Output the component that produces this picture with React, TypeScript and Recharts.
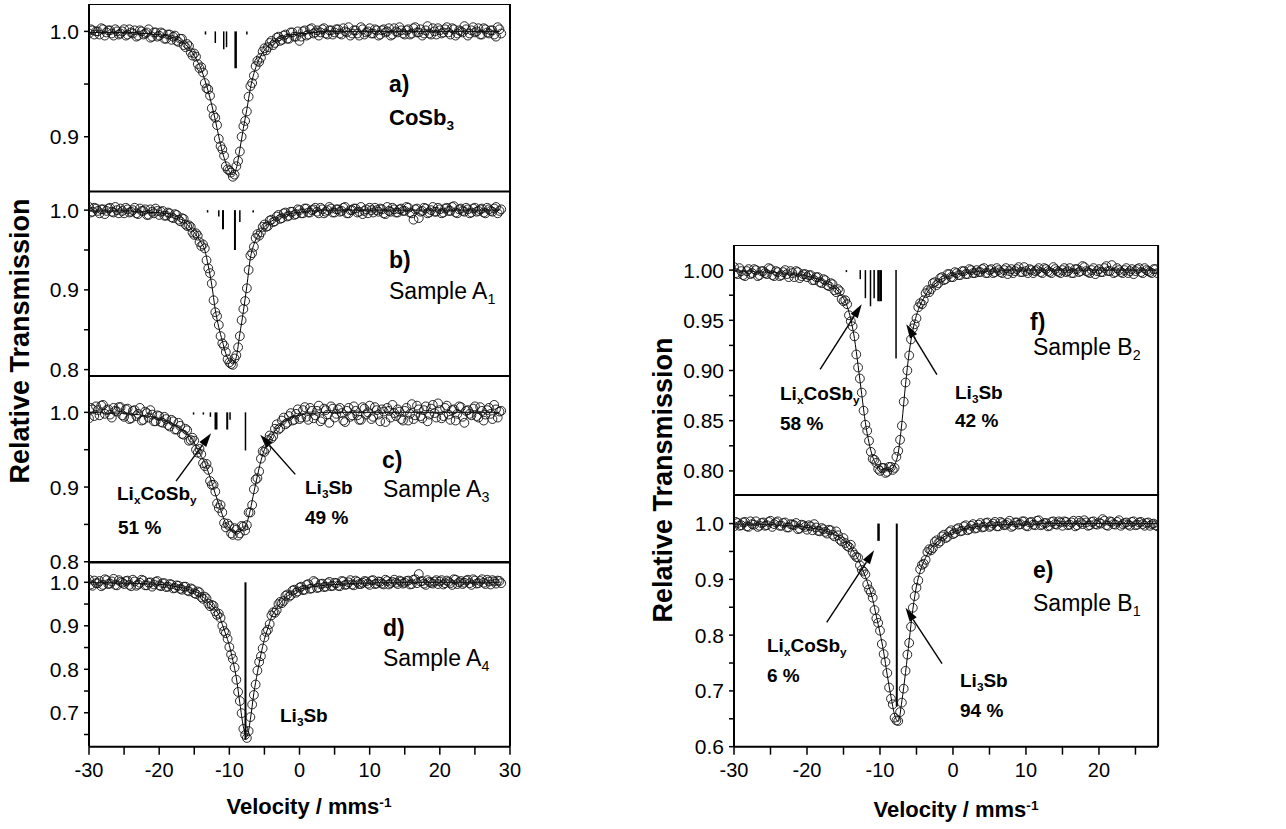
import React from 'react';
import { ComposedChart, Line, Scatter, XAxis, YAxis, ReferenceLine } from 'recharts';

const FONT = '"Liberation Sans", Arial, Helvetica, sans-serif';

// velocity channels (mm/s): even channels and the odd channels in between
const velLeft = [
  -30, -29.5, -29, -28.5, -28, -27.5, -27, -26.5, -26, -25.5,
  -25, -24.5, -24, -23.5, -23, -22.5, -22, -21.5, -21, -20.5,
  -20, -19.5, -19, -18.5, -18, -17.5, -17, -16.5, -16, -15.5,
  -15, -14.5, -14, -13.5, -13, -12.5, -12, -11.5, -11, -10.5,
  -10, -9.5, -9, -8.5, -8, -7.5, -7, -6.5, -6, -5.5,
  -5, -4.5, -4, -3.5, -3, -2.5, -2, -1.5, -1, -0.5,
  0, 0.5, 1, 1.5, 2, 2.5, 3, 3.5, 4, 4.5,
  5, 5.5, 6, 6.5, 7, 7.5, 8, 8.5, 9, 9.5,
  10, 10.5, 11, 11.5, 12, 12.5, 13, 13.5, 14, 14.5,
  15, 15.5, 16, 16.5, 17, 17.5, 18, 18.5, 19, 19.5,
  20, 20.5, 21, 21.5, 22, 22.5, 23, 23.5, 24, 24.5,
  25, 25.5, 26, 26.5, 27, 27.5, 28, 28.5,
];
const velLeftMid = [
  -29.75, -29.25, -28.75, -28.25, -27.75, -27.25, -26.75, -26.25, -25.75, -25.25,
  -24.75, -24.25, -23.75, -23.25, -22.75, -22.25, -21.75, -21.25, -20.75, -20.25,
  -19.75, -19.25, -18.75, -18.25, -17.75, -17.25, -16.75, -16.25, -15.75, -15.25,
  -14.75, -14.25, -13.75, -13.25, -12.75, -12.25, -11.75, -11.25, -10.75, -10.25,
  -9.75, -9.25, -8.75, -8.25, -7.75, -7.25, -6.75, -6.25, -5.75, -5.25,
  -4.75, -4.25, -3.75, -3.25, -2.75, -2.25, -1.75, -1.25, -0.75, -0.25,
  0.25, 0.75, 1.25, 1.75, 2.25, 2.75, 3.25, 3.75, 4.25, 4.75,
  5.25, 5.75, 6.25, 6.75, 7.25, 7.75, 8.25, 8.75, 9.25, 9.75,
  10.25, 10.75, 11.25, 11.75, 12.25, 12.75, 13.25, 13.75, 14.25, 14.75,
  15.25, 15.75, 16.25, 16.75, 17.25, 17.75, 18.25, 18.75, 19.25, 19.75,
  20.25, 20.75, 21.25, 21.75, 22.25, 22.75, 23.25, 23.75, 24.25, 24.75,
  25.25, 25.75, 26.25, 26.75, 27.25, 27.75, 28.25, 28.75,
];
const velRight = [
  -30, -29.5, -29, -28.5, -28, -27.5, -27, -26.5, -26, -25.5,
  -25, -24.5, -24, -23.5, -23, -22.5, -22, -21.5, -21, -20.5,
  -20, -19.5, -19, -18.5, -18, -17.5, -17, -16.5, -16, -15.5,
  -15, -14.5, -14, -13.5, -13, -12.5, -12, -11.5, -11, -10.5,
  -10, -9.5, -9, -8.5, -8, -7.5, -7, -6.5, -6, -5.5,
  -5, -4.5, -4, -3.5, -3, -2.5, -2, -1.5, -1, -0.5,
  0, 0.5, 1, 1.5, 2, 2.5, 3, 3.5, 4, 4.5,
  5, 5.5, 6, 6.5, 7, 7.5, 8, 8.5, 9, 9.5,
  10, 10.5, 11, 11.5, 12, 12.5, 13, 13.5, 14, 14.5,
  15, 15.5, 16, 16.5, 17, 17.5, 18, 18.5, 19, 19.5,
  20, 20.5, 21, 21.5, 22, 22.5, 23, 23.5, 24, 24.5,
  25, 25.5, 26, 26.5, 27, 27.5, 28,
];
const velRightMid = [
  -29.75, -29.25, -28.75, -28.25, -27.75, -27.25, -26.75, -26.25, -25.75, -25.25,
  -24.75, -24.25, -23.75, -23.25, -22.75, -22.25, -21.75, -21.25, -20.75, -20.25,
  -19.75, -19.25, -18.75, -18.25, -17.75, -17.25, -16.75, -16.25, -15.75, -15.25,
  -14.75, -14.25, -13.75, -13.25, -12.75, -12.25, -11.75, -11.25, -10.75, -10.25,
  -9.75, -9.25, -8.75, -8.25, -7.75, -7.25, -6.75, -6.25, -5.75, -5.25,
  -4.75, -4.25, -3.75, -3.25, -2.75, -2.25, -1.75, -1.25, -0.75, -0.25,
  0.25, 0.75, 1.25, 1.75, 2.25, 2.75, 3.25, 3.75, 4.25, 4.75,
  5.25, 5.75, 6.25, 6.75, 7.25, 7.75, 8.25, 8.75, 9.25, 9.75,
  10.25, 10.75, 11.25, 11.75, 12.25, 12.75, 13.25, 13.75, 14.25, 14.75,
  15.25, 15.75, 16.25, 16.75, 17.25, 17.75, 18.25, 18.75, 19.25, 19.75,
  20.25, 20.75, 21.25, 21.75, 22.25, 22.75, 23.25, 23.75, 24.25, 24.75,
  25.25, 25.75, 26.25, 26.75, 27.25, 27.75,
];

// a) CoSb3
const obsA = [
  0.998, 1.001, 1.000, 0.997, 1.002, 0.999, 1.001, 0.996, 1.000, 0.998,
  1.002, 0.997, 0.999, 1.001, 0.996, 1.000, 0.998, 1.002, 0.995, 0.999,
  0.996, 0.998, 0.993, 0.997, 0.995, 0.991, 0.993, 0.987, 0.988, 0.980,
  0.979, 0.969, 0.966, 0.951, 0.945, 0.927, 0.918, 0.898, 0.888, 0.872,
  0.868, 0.862, 0.872, 0.886, 0.910, 0.924, 0.948, 0.958, 0.972, 0.975,
  0.984, 0.985, 0.991, 0.989, 0.995, 0.992, 0.997, 0.993, 0.999, 0.995,
  0.991, 1.000, 0.996, 1.002, 0.998, 1.001, 0.999, 1.003, 0.997, 1.001,
  0.999, 1.002, 0.997, 1.000, 1.004, 0.998, 1.001, 0.996, 1.002, 0.999,
  1.003, 0.998, 1.001, 0.997, 1.002, 1.000, 0.996, 1.003, 0.999, 1.001,
  0.997, 1.002, 0.998, 1.004, 0.999, 0.996, 1.001, 0.998, 1.003, 0.997,
  1.001, 0.999, 1.004, 0.997, 1.002, 0.998, 1.000, 1.005, 0.996, 1.001,
  0.999, 1.003, 0.997, 1.002, 0.998, 1.001, 0.995, 1.002,
];
const obsAMid = [
  1.002, 0.997, 1.000, 1.003, 0.996, 1.001, 0.998, 1.002, 0.997, 1.000,
  0.996, 1.002, 0.998, 0.995, 1.001, 0.997, 0.999, 0.994, 0.999, 0.995,
  0.999, 0.993, 0.997, 0.992, 0.996, 0.990, 0.993, 0.985, 0.986, 0.977,
  0.976, 0.965, 0.961, 0.946, 0.939, 0.920, 0.911, 0.891, 0.882, 0.869,
  0.866, 0.864, 0.877, 0.900, 0.915, 0.938, 0.951, 0.967, 0.971, 0.981,
  0.982, 0.989, 0.987, 0.994, 0.991, 0.996, 0.993, 0.999, 0.995, 1.000,
  0.995, 1.001, 0.997, 1.003, 0.999, 0.996, 1.002, 0.998, 1.001, 0.997,
  1.002, 0.998, 1.003, 0.999, 0.996, 1.001, 0.998, 1.004, 0.997, 1.000,
  0.998, 1.002, 0.996, 1.001, 0.999, 1.003, 0.997, 1.000, 1.004, 0.998,
  1.001, 0.997, 1.003, 0.999, 1.002, 0.998, 1.005, 0.997, 1.000, 1.003,
  0.998, 1.002, 0.999, 1.003, 0.996, 1.001, 0.999, 1.002, 0.998, 1.004,
  1.000, 0.997, 1.003, 0.999, 1.001, 0.997, 1.004, 0.998,
];
const fitA = [
  0.999, 0.999, 0.999, 0.999, 0.999, 0.999, 0.999, 0.999, 0.999, 0.999,
  0.999, 0.999, 0.999, 0.999, 0.998, 0.998, 0.998, 0.998, 0.997, 0.997,
  0.997, 0.996, 0.996, 0.995, 0.994, 0.993, 0.991, 0.989, 0.986, 0.982,
  0.977, 0.971, 0.964, 0.954, 0.943, 0.930, 0.916, 0.900, 0.886, 0.875,
  0.867, 0.864, 0.870, 0.888, 0.908, 0.926, 0.946, 0.960, 0.970, 0.977,
  0.982, 0.986, 0.989, 0.991, 0.993, 0.994, 0.995, 0.996, 0.997, 0.997,
  0.998, 0.998, 0.998, 0.999, 0.999, 0.999, 1, 1, 1, 1,
  1, 1, 1, 1, 1, 1, 1, 1, 1, 1,
  1, 1, 1, 1, 1, 1, 1, 1, 1, 1,
  1, 1, 1, 1, 1, 1, 1, 1, 1, 1,
  1, 1, 1, 1, 1, 1, 1, 1, 1, 1,
  1, 1, 1, 1, 1, 1, 1, 1,
];

// b) Sample A1
const obsB = [
  1.004, 0.998, 1.002, 0.996, 1.001, 0.999, 1.003, 0.997, 1.000, 1.002,
  0.996, 1.001, 0.998, 1.003, 0.995, 0.999, 1.001, 0.994, 0.998, 1.002,
  0.994, 0.999, 0.993, 0.996, 0.990, 0.994, 0.986, 0.989, 0.980, 0.979,
  0.969, 0.968, 0.955, 0.952, 0.927, 0.908, 0.872, 0.856, 0.833, 0.822,
  0.809, 0.806, 0.818, 0.842, 0.876, 0.902, 0.943, 0.954, 0.970, 0.972,
  0.982, 0.980, 0.988, 0.986, 0.994, 0.990, 0.997, 0.993, 0.998, 0.995,
  1.000, 0.996, 1.002, 0.997, 1.001, 0.998, 1.003, 0.996, 1.000, 1.002,
  0.997, 1.001, 0.999, 1.004, 0.996, 1.000, 1.002, 0.998, 0.995, 1.001,
  1.003, 0.997, 1.000, 1.002, 0.996, 1.004, 0.998, 1.001, 0.997, 1.002,
  0.999, 1.003, 0.996, 1.001, 0.990, 0.999, 1.002, 0.997, 1.004, 0.998,
  1.001, 0.997, 1.003, 0.999, 1.005, 0.996, 1.002, 0.998, 1.001, 0.997,
  1.003, 0.999, 1.002, 0.996, 1.001, 0.998, 1.004, 0.999,
];
const obsBMid = [
  0.997, 1.003, 0.999, 1.001, 0.995, 1.002, 0.998, 1.004, 0.996, 0.999,
  1.003, 0.997, 1.000, 0.996, 1.002, 0.999, 0.994, 1.001, 0.996, 0.999,
  0.998, 0.993, 0.997, 0.991, 0.995, 0.988, 0.990, 0.982, 0.981, 0.972,
  0.971, 0.960, 0.957, 0.937, 0.921, 0.887, 0.867, 0.842, 0.830, 0.813,
  0.807, 0.814, 0.828, 0.862, 0.886, 0.925, 0.946, 0.965, 0.968, 0.979,
  0.979, 0.987, 0.985, 0.992, 0.989, 0.996, 0.992, 0.998, 0.994, 1.001,
  0.996, 1.002, 0.997, 1.000, 1.003, 0.996, 1.001, 0.998, 1.004, 0.997,
  1.001, 0.998, 1.003, 0.996, 1.000, 1.002, 0.997, 1.004, 0.999, 0.996,
  1.000, 1.003, 0.998, 1.001, 0.995, 0.999, 1.003, 0.997, 1.001, 0.999,
  1.004, 0.997, 0.988, 1.002, 0.998, 1.003, 0.996, 1.000, 0.998, 1.003,
  0.996, 1.002, 0.999, 1.004, 0.997, 1.001, 0.999, 1.003, 0.996, 1.002,
  0.998, 1.001, 0.997, 1.003, 0.999, 1.002, 0.996, 1.001,
];
const fitB = [
  0.999, 0.999, 0.999, 0.999, 0.999, 0.999, 0.999, 0.999, 0.999, 0.999,
  0.999, 0.999, 0.999, 0.998, 0.998, 0.998, 0.998, 0.997, 0.997, 0.997,
  0.997, 0.996, 0.996, 0.995, 0.993, 0.992, 0.989, 0.987, 0.982, 0.977,
  0.972, 0.966, 0.959, 0.950, 0.930, 0.906, 0.875, 0.853, 0.836, 0.820,
  0.811, 0.807, 0.816, 0.845, 0.873, 0.905, 0.940, 0.957, 0.967, 0.974,
  0.979, 0.983, 0.986, 0.989, 0.991, 0.993, 0.994, 0.995, 0.996, 0.997,
  0.997, 0.998, 0.998, 0.999, 0.999, 0.999, 1, 1, 1, 1,
  1, 1, 1, 1, 1, 1, 1, 1, 1, 1,
  1, 1, 1, 1, 1, 1, 1, 1, 1, 1,
  1, 1, 1, 1, 1, 1, 1, 1, 1, 1,
  1, 1, 1, 1, 1, 1, 1, 1, 1, 1,
  1, 1, 1, 1, 1, 1, 1, 1,
];

// c) Sample A3
const obsC = [
  0.992, 1.004, 1.008, 0.996, 1.010, 1.003, 0.997, 1.006, 1.001, 1.007,
  0.994, 1.005, 0.992, 1.003, 0.998, 0.989, 1.001, 0.993, 0.997, 0.988,
  0.995, 0.986, 0.991, 0.981, 0.988, 0.977, 0.982, 0.970, 0.976, 0.963,
  0.962, 0.946, 0.944, 0.928, 0.923, 0.903, 0.894, 0.872, 0.866, 0.846,
  0.848, 0.836, 0.843, 0.838, 0.847, 0.849, 0.866, 0.897, 0.912, 0.938,
  0.947, 0.963, 0.965, 0.978, 0.977, 0.989, 0.984, 0.995, 0.989, 0.998,
  0.991, 1.003, 0.994, 1.006, 0.992, 1.002, 0.988, 1.005, 0.997, 1.008,
  0.993, 1.004, 0.999, 0.987, 1.006, 0.996, 1.002, 0.990, 1.007, 0.997,
  1.009, 0.994, 1.003, 0.988, 1.001, 1.006, 0.993, 0.999, 1.004, 0.991,
  1.002, 0.989, 1.011, 0.996, 1.004, 0.992, 1.008, 0.997, 1.010, 0.993,
  1.003, 0.995, 1.009, 0.990, 1.004, 0.998, 1.007, 0.986, 1.003, 0.996,
  1.008, 0.993, 1.002, 0.997, 1.006, 0.991, 1.004, 1.001,
];
const obsCMid = [
  1.006, 0.995, 1.003, 1.009, 0.998, 1.004, 0.993, 1.002, 1.007, 0.996,
  1.004, 0.991, 1.002, 0.995, 1.006, 0.990, 0.999, 1.003, 0.988, 0.996,
  0.987, 0.994, 0.983, 0.990, 0.977, 0.986, 0.971, 0.978, 0.962, 0.966,
  0.950, 0.951, 0.932, 0.931, 0.908, 0.903, 0.878, 0.876, 0.852, 0.851,
  0.838, 0.845, 0.835, 0.848, 0.842, 0.866, 0.876, 0.910, 0.921, 0.948,
  0.951, 0.969, 0.968, 0.984, 0.979, 0.993, 0.986, 0.999, 0.990, 1.004,
  0.993, 1.007, 0.990, 1.002, 0.996, 1.009, 0.991, 1.003, 0.986, 1.005,
  0.998, 1.006, 0.989, 1.002, 0.994, 1.008, 0.996, 0.990, 1.005, 1.000,
  0.991, 1.007, 0.997, 1.004, 0.987, 1.002, 1.010, 0.995, 1.001, 0.989,
  1.006, 0.998, 0.991, 1.009, 0.995, 1.003, 0.988, 1.005, 0.999, 1.012,
  0.992, 1.006, 0.997, 1.003, 0.989, 1.008, 0.994, 1.002, 0.998, 1.005,
  0.995, 1.007, 0.989, 1.003, 0.998, 1.010, 0.993, 1.002,
];
const fitC = [
  1, 1, 1, 1, 0.999, 0.999, 0.999, 0.999, 0.999, 0.999,
  0.998, 0.998, 0.998, 0.997, 0.997, 0.996, 0.995, 0.995, 0.994, 0.993,
  0.991, 0.990, 0.988, 0.986, 0.984, 0.981, 0.978, 0.975, 0.971, 0.966,
  0.959, 0.950, 0.941, 0.933, 0.920, 0.906, 0.891, 0.877, 0.863, 0.851,
  0.845, 0.840, 0.840, 0.841, 0.844, 0.852, 0.870, 0.893, 0.915, 0.935,
  0.950, 0.960, 0.968, 0.975, 0.981, 0.985, 0.989, 0.991, 0.993, 0.995,
  0.996, 0.997, 0.998, 0.998, 0.999, 0.999, 1, 1, 1, 1,
  1, 1, 1, 1, 1, 1, 1, 1, 1, 1,
  1, 1, 1, 1, 1, 1, 1, 1, 1, 1,
  1, 1, 1, 1, 1, 1, 1, 1, 1, 1,
  1, 1, 1, 1, 1, 1, 1, 1, 1, 1,
  1, 1, 1, 1, 1, 1, 1, 1,
];

// d) Sample A4
const obsD = [
  1.006, 0.992, 0.998, 1.003, 0.994, 1.005, 0.997, 1.008, 0.993, 1.001,
  0.996, 1.004, 0.991, 1.002, 0.995, 1.006, 0.993, 0.999, 0.990, 1.001,
  0.993, 0.998, 0.989, 0.996, 0.986, 0.993, 0.985, 0.990, 0.981, 0.986,
  0.975, 0.979, 0.966, 0.967, 0.951, 0.948, 0.933, 0.928, 0.900, 0.883,
  0.851, 0.824, 0.776, 0.727, 0.663, 0.642, 0.690, 0.741, 0.797, 0.830,
  0.873, 0.891, 0.924, 0.930, 0.950, 0.952, 0.969, 0.967, 0.981, 0.976,
  0.988, 0.982, 0.994, 0.985, 1.003, 0.987, 0.996, 0.989, 0.998, 0.991,
  0.999, 0.992, 1.003, 0.994, 1.000, 0.995, 1.004, 0.996, 0.999, 1.002,
  0.994, 1.005, 0.997, 1.001, 0.995, 1.003, 0.998, 1.006, 0.996, 1.002,
  0.999, 1.004, 0.996, 1.007, 1.019, 1.003, 0.994, 1.001, 0.997, 1.005,
  1.002, 0.995, 1.004, 0.998, 1.007, 0.996, 1.003, 0.999, 1.006, 0.994,
  1.004, 0.998, 1.007, 0.996, 1.002, 1.005, 0.997, 1.003,
];
const obsDMid = [
  0.995, 1.004, 0.998, 0.991, 1.007, 0.996, 1.002, 0.994, 1.005, 0.999,
  1.003, 0.994, 1.006, 0.992, 0.999, 1.004, 0.993, 1.000, 0.995, 1.003,
  0.991, 0.998, 0.990, 0.995, 0.987, 0.992, 0.983, 0.990, 0.979, 0.984,
  0.973, 0.977, 0.962, 0.963, 0.945, 0.946, 0.925, 0.918, 0.888, 0.870,
  0.834, 0.804, 0.748, 0.699, 0.649, 0.658, 0.719, 0.765, 0.817, 0.848,
  0.886, 0.904, 0.931, 0.936, 0.955, 0.957, 0.972, 0.970, 0.983, 0.979,
  0.990, 0.983, 0.996, 0.986, 1.000, 0.988, 0.997, 0.990, 1.001, 0.992,
  0.998, 0.991, 1.002, 0.995, 1.005, 0.993, 1.001, 0.996, 1.003, 0.997,
  1.004, 0.996, 1.002, 0.997, 1.006, 0.995, 1.001, 0.999, 1.004, 0.997,
  1.003, 0.995, 1.006, 0.998, 1.002, 0.997, 1.005, 0.999, 1.002, 0.996,
  1.005, 0.998, 1.001, 0.994, 1.006, 1.000, 0.996, 1.004, 0.998, 1.007,
  0.997, 1.003, 0.999, 1.006, 0.995, 1.002, 1.004, 0.998,
];
const fitD = [
  0.999, 0.999, 0.999, 0.999, 0.999, 0.999, 0.999, 0.998, 0.998, 0.998,
  0.998, 0.998, 0.998, 0.997, 0.997, 0.997, 0.997, 0.996, 0.996, 0.996,
  0.995, 0.995, 0.994, 0.993, 0.991, 0.990, 0.988, 0.987, 0.984, 0.982,
  0.979, 0.976, 0.970, 0.963, 0.955, 0.946, 0.937, 0.925, 0.903, 0.880,
  0.855, 0.820, 0.780, 0.722, 0.668, 0.645, 0.685, 0.746, 0.792, 0.834,
  0.869, 0.895, 0.920, 0.934, 0.946, 0.956, 0.965, 0.971, 0.977, 0.981,
  0.984, 0.986, 0.988, 0.989, 0.990, 0.991, 0.992, 0.993, 0.994, 0.994,
  0.995, 0.995, 0.996, 0.996, 0.997, 0.997, 0.997, 0.998, 0.998, 0.998,
  0.998, 0.998, 0.999, 0.999, 0.999, 0.999, 0.999, 0.999, 0.999, 0.999,
  1, 1, 1, 1, 1, 1, 1, 1, 1, 1,
  1, 1, 1, 1, 1, 1, 1, 1, 1, 1,
  1, 1, 1, 1, 1, 1, 1, 1,
];

// f) Sample B2
const obsF = [
  1.003, 0.996, 0.999, 0.994, 1.001, 0.997, 1.000, 0.995, 0.999, 0.996,
  1.001, 0.994, 0.998, 0.995, 1.000, 0.993, 0.997, 0.999, 0.992, 0.996,
  0.993, 0.995, 0.990, 0.993, 0.987, 0.990, 0.984, 0.986, 0.978, 0.979,
  0.969, 0.966, 0.949, 0.934, 0.903, 0.878, 0.846, 0.830, 0.812, 0.808,
  0.800, 0.803, 0.799, 0.804, 0.803, 0.820, 0.845, 0.888, 0.915, 0.942,
  0.952, 0.967, 0.970, 0.980, 0.981, 0.988, 0.987, 0.993, 0.991, 0.996,
  0.993, 0.997, 0.995, 0.999, 0.996, 1.000, 0.997, 0.998, 1.001, 0.997,
  1.000, 0.997, 1.002, 0.998, 1.000, 0.996, 1.001, 0.999, 1.003, 0.998,
  0.999, 1.001, 0.997, 1.000, 0.998, 1.002, 0.999, 0.997, 1.001, 0.998,
  1.000, 0.998, 1.002, 0.997, 1.001, 0.999, 1.003, 0.998, 1.000, 0.996,
  1.001, 0.998, 1.004, 0.999, 0.997, 1.002, 0.998, 1.000, 0.997, 1.001,
  0.999, 1.002, 0.997, 1.000, 0.998, 1.001, 0.997,
];
const obsFMid = [
  0.997, 1.002, 0.995, 0.999, 0.996, 1.001, 0.994, 0.999, 0.997, 1.002,
  0.995, 0.999, 0.994, 0.998, 0.996, 0.999, 0.993, 0.998, 0.994, 0.996,
  0.995, 0.990, 0.993, 0.988, 0.991, 0.985, 0.987, 0.980, 0.981, 0.971,
  0.970, 0.955, 0.944, 0.916, 0.892, 0.860, 0.840, 0.819, 0.811, 0.802,
  0.803, 0.798, 0.804, 0.801, 0.814, 0.831, 0.869, 0.900, 0.931, 0.946,
  0.963, 0.966, 0.977, 0.978, 0.987, 0.985, 0.992, 0.990, 0.996, 0.993,
  0.998, 0.995, 0.999, 0.996, 1.001, 0.997, 1.000, 0.998, 1.002, 0.997,
  1.001, 0.998, 1.000, 0.997, 1.002, 0.999, 0.997, 1.001, 0.998, 1.003,
  0.997, 1.000, 0.999, 1.002, 0.997, 1.001, 0.998, 1.003, 0.999, 0.997,
  1.002, 0.999, 0.997, 1.001, 0.998, 1.004, 0.999, 0.997, 1.002, 0.999,
  0.998, 1.002, 0.999, 1.005, 0.998, 1.000, 0.997, 1.002, 0.999, 0.996,
  1.001, 0.998, 1.002, 0.999, 0.997, 1.001,
];
const fitF = [
  0.999, 0.999, 0.999, 0.999, 0.999, 0.999, 0.998, 0.998, 0.998, 0.998,
  0.998, 0.998, 0.997, 0.997, 0.997, 0.996, 0.996, 0.996, 0.995, 0.995,
  0.994, 0.993, 0.992, 0.991, 0.990, 0.988, 0.986, 0.984, 0.981, 0.977,
  0.972, 0.964, 0.951, 0.932, 0.905, 0.876, 0.848, 0.828, 0.814, 0.806,
  0.802, 0.801, 0.801, 0.802, 0.806, 0.818, 0.848, 0.886, 0.918, 0.940,
  0.955, 0.965, 0.972, 0.978, 0.983, 0.986, 0.989, 0.991, 0.993, 0.994,
  0.995, 0.996, 0.997, 0.997, 0.998, 0.998, 0.998, 0.999, 0.999, 0.999,
  0.999, 0.999, 0.999, 0.999, 1, 1, 1, 1, 1, 1,
  1, 1, 1, 1, 1, 1, 1, 1, 1, 1,
  1, 1, 1, 1, 1, 1, 1, 1, 1, 1,
  1, 1, 1, 1, 1, 1, 1, 1, 1, 1,
  1, 1, 1, 1, 1, 1, 1,
];

// e) Sample B1
const obsE = [
  0.995, 1.001, 0.997, 1.003, 0.994, 0.999, 1.004, 0.996, 1.002, 0.997,
  1.005, 0.999, 1.004, 0.996, 1.002, 0.993, 0.998, 1.001, 0.991, 0.997,
  0.989, 0.995, 0.999, 0.987, 0.992, 0.985, 0.989, 0.980, 0.986, 0.971,
  0.974, 0.960, 0.962, 0.944, 0.939, 0.917, 0.909, 0.882, 0.867, 0.830,
  0.808, 0.766, 0.732, 0.686, 0.652, 0.646, 0.679, 0.736, 0.786, 0.849,
  0.885, 0.918, 0.928, 0.949, 0.952, 0.967, 0.965, 0.977, 0.974, 0.985,
  0.981, 0.990, 0.986, 0.995, 0.988, 0.996, 0.991, 0.998, 0.993, 1.001,
  0.994, 1.000, 0.995, 1.003, 0.997, 1.001, 0.994, 1.002, 0.998, 1.004,
  0.996, 1.002, 0.998, 1.005, 0.997, 1.001, 0.995, 1.003, 0.999, 1.004,
  0.996, 1.003, 0.998, 1.005, 0.997, 1.002, 1.006, 0.996, 1.003, 0.999,
  1.002, 1.008, 0.997, 1.004, 0.999, 1.003, 0.996, 1.001, 0.998, 1.003,
  0.997, 1.002, 0.999, 1.001, 0.996, 1.000, 0.995,
];
const obsEMid = [
  1.003, 0.996, 1.002, 0.995, 1.004, 0.998, 0.994, 1.001, 0.996, 1.003,
  0.994, 1.002, 0.996, 1.001, 0.993, 0.999, 0.997, 0.990, 0.998, 0.994,
  0.997, 0.988, 0.993, 0.986, 0.990, 0.982, 0.988, 0.977, 0.979, 0.968,
  0.965, 0.958, 0.949, 0.940, 0.925, 0.914, 0.891, 0.877, 0.845, 0.822,
  0.784, 0.752, 0.706, 0.676, 0.647, 0.662, 0.704, 0.765, 0.815, 0.870,
  0.898, 0.926, 0.935, 0.954, 0.956, 0.970, 0.968, 0.980, 0.976, 0.988,
  0.983, 0.992, 0.987, 0.997, 0.990, 0.999, 0.992, 1.001, 0.994, 1.002,
  0.996, 1.003, 0.995, 1.001, 0.998, 1.005, 0.996, 1.002, 0.999, 1.004,
  0.995, 1.003, 0.997, 1.006, 0.998, 1.001, 0.996, 1.004, 0.998, 1.002,
  1.004, 0.997, 1.002, 0.995, 1.005, 0.999, 1.002, 0.997, 1.004, 0.998,
  1.000, 1.005, 0.996, 1.003, 0.998, 1.006, 0.999, 1.002, 0.996, 1.004,
  0.998, 1.003, 0.996, 1.002, 0.999, 0.997,
];
const fitE = [
  0.999, 0.999, 0.999, 0.999, 0.999, 0.999, 0.999, 0.999, 0.998, 0.998,
  0.998, 0.998, 0.997, 0.997, 0.997, 0.996, 0.996, 0.995, 0.995, 0.994,
  0.993, 0.992, 0.991, 0.990, 0.989, 0.987, 0.985, 0.983, 0.979, 0.975,
  0.970, 0.965, 0.958, 0.948, 0.936, 0.921, 0.905, 0.886, 0.864, 0.834,
  0.804, 0.770, 0.728, 0.690, 0.657, 0.645, 0.682, 0.733, 0.790, 0.846,
  0.888, 0.914, 0.932, 0.945, 0.956, 0.963, 0.969, 0.974, 0.978, 0.981,
  0.984, 0.987, 0.989, 0.991, 0.992, 0.993, 0.994, 0.995, 0.996, 0.996,
  0.997, 0.997, 0.997, 0.998, 0.998, 0.998, 0.998, 0.999, 0.999, 0.999,
  0.999, 0.999, 0.999, 0.999, 1, 1, 1, 1, 1, 1,
  1, 1, 1, 1, 1, 1, 1, 1, 1, 1,
  1, 1, 1, 1, 1, 1, 1, 1, 1, 1,
  1, 1, 1, 1, 1, 1, 1,
];

// subspectrum line positions (mm/s), line ends and stroke widths
const stickXA = [-13.4, -12.0, -10.8, -10.4, -9.1, -7.5];
const stickEndA = [0.997, 0.989, 0.983, 0.985, 0.965, 0.997];
const stickWA = [1.5, 1.5, 1.5, 1.5, 2.5, 1.5];
const stickXB = [-13.1, -11.5, -10.9, -9.2, -8.5, -6.6];
const stickEndB = [0.997, 0.992, 0.976, 0.950, 0.985, 0.997];
const stickWB = [1.5, 1.5, 2, 2, 1.5, 1.5];
const stickXC = [-15.1, -13.7, -12.7, -11.9, -10.3, -9.9, -7.7];
const stickEndC = [0.997, 0.997, 0.994, 0.977, 0.977, 0.990, 0.949];
const stickWC = [1.5, 1.5, 1.5, 3, 2, 1.5, 1.5];
const stickXD = [-7.7];
const stickEndD = [0.638];
const stickWD = [2];
const stickXF = [-14.6, -12.7, -12.0, -11.3, -10.8, -10.2, -9.9, -7.8];
const stickEndF = [0.998, 0.991, 0.972, 0.964, 0.972, 0.969, 0.969, 0.912];
const stickWF = [1.5, 1.5, 1.5, 1.5, 1.5, 2.5, 2.5, 1.5];
const stickXE = [-10.2, -7.7];
const stickEndE = [0.969, 0.672];
const stickWE = [2.5, 2];

// annotation arrows: [tailX, tailY, tipX, tipY]
const arrowsC = [[-17.6, 0.908, -12.6, 0.972], [-0.6, 0.917, -5.6, 0.970]];
const arrowsF = [[-18.2, 0.901, -12.5, 0.966], [-2.2, 0.896, -6.4, 0.946]];
const arrowsE = [[-17.3, 0.823, -10.8, 0.952], [-1.5, 0.749, -6.5, 0.849]];

const xTicksLeft = [-30, -25, -20, -15, -10, -5, 0, 5, 10, 15, 20, 25, 30];
const xTicksRight = [-30, -25, -20, -15, -10, -5, 0, 5, 10, 15, 20, 25];
const yTicksA = [0.9, 0.95, 1.0];
const yTicksB = [0.8, 0.85, 0.9, 0.95, 1.0];
const yTicksC = [0.8, 0.85, 0.9, 0.95, 1.0];
const yTicksD = [0.65, 0.7, 0.75, 0.8, 0.85, 0.9, 0.95, 1.0];
const yTicksF = [0.8, 0.825, 0.85, 0.875, 0.9, 0.925, 0.95, 0.975, 1.0];
const yTicksE = [0.6, 0.65, 0.7, 0.75, 0.8, 0.85, 0.9, 0.95, 1.0];

const Y_W = 60;
const M_R = 16;

const Ring = (props: any) =>
  props.cx == null ? null : (
    <circle cx={props.cx} cy={props.cy} r={4.4} fill="none" stroke="#111" strokeWidth={0.9} />
  );

const ArrowShape = (props: any) => {
  const { x1, y1, x2, y2 } = props;
  const ang = Math.atan2(y2 - y1, x2 - x1);
  const len = 14;
  const half = 4.2;
  const bx = x2 - len * Math.cos(ang);
  const by = y2 - len * Math.sin(ang);
  const px = -Math.sin(ang) * half;
  const py = Math.cos(ang) * half;
  return (
    <g>
      <line x1={x1} y1={y1} x2={bx} y2={by} stroke="#000" strokeWidth={1.4} />
      <polygon points={`${x2},${y2} ${bx + px},${by + py} ${bx - px},${by - py}`} fill="#000" />
    </g>
  );
};

interface PanelProps {
  vel: number[];
  velMid: number[];
  obs: number[];
  obsMid: number[];
  fit: number[];
  stickX: number[];
  stickEnd: number[];
  stickW: number[];
  arrows?: number[][];
  xDomain: [number, number];
  xTicks: number[];
  yDomain: [number, number];
  yTicks: number[];
  yStep: number;
  yDigits: number;
  left: number;
  top: number;
  plotW: number;
  plotH: number;
  topTicks?: boolean;
  xLabels?: boolean;
}

function Panel(p: PanelProps) {
  const data = p.vel.map((v, i) => ({ v, fit: p.fit[i] }));
  const points = [
    ...p.vel.map((v, i) => ({ v, obs: p.obs[i] })),
    ...p.velMid.map((v, i) => ({ v, obs: p.obsMid[i] })),
  ];
  const xh = p.xLabels ? 50 : 10;
  const yFmt = (val: number) => {
    const k = val / p.yStep;
    return Math.abs(k - Math.round(k)) < 1e-6 ? val.toFixed(p.yDigits) : '';
  };
  const xFmt = (val: number) => (val % 10 === 0 ? String(val) : '');
  const axisLine = { stroke: '#000', strokeWidth: 2 };
  const tickLine = { stroke: '#000', strokeWidth: 1.5 };
  const xTickStyle = { fill: '#000', fontSize: 20, fontFamily: FONT };
  const yTickStyle = { fill: '#000', fontSize: 21, fontFamily: FONT };

  // the top axis takes 1px and the right axis 1px: shift the chart so the plot keeps its place
  return (
    <div style={{ position: 'absolute', left: p.left, top: p.top - 1 }}>
      <ComposedChart
        width={Y_W + p.plotW + 1 + M_R}
        height={p.plotH + xh + 1}
        data={data}
        margin={{ top: 0, right: M_R, bottom: 0, left: 0 }}
      >
        <XAxis
          xAxisId="top"
          orientation="top"
          type="number"
          dataKey="v"
          domain={p.xDomain}
          ticks={p.xTicks}
          interval={0}
          allowDataOverflow
          height={1}
          mirror
          tick={false}
          tickSize={8}
          axisLine={axisLine}
          tickLine={p.topTicks ? tickLine : false}
        />
        <XAxis
          type="number"
          dataKey="v"
          domain={p.xDomain}
          ticks={p.xTicks}
          interval={0}
          allowDataOverflow
          height={xh}
          tickSize={8}
          tickMargin={8}
          tickFormatter={xFmt}
          tick={p.xLabels ? xTickStyle : false}
          axisLine={axisLine}
          tickLine={tickLine}
        />
        <YAxis
          type="number"
          domain={p.yDomain}
          ticks={p.yTicks}
          interval={0}
          allowDataOverflow
          width={Y_W}
          tickSize={5}
          tickMargin={5}
          tickFormatter={yFmt}
          tick={yTickStyle}
          axisLine={axisLine}
          tickLine={tickLine}
        />
        <YAxis
          yAxisId="r"
          orientation="right"
          type="number"
          domain={p.yDomain}
          ticks={p.yTicks}
          allowDataOverflow
          width={1}
          tick={false}
          tickLine={false}
          axisLine={axisLine}
        />
        {/* invisible series tied to the frame axes (top / right) */}
        <Line
          xAxisId="top"
          yAxisId="r"
          dataKey="fit"
          stroke="none"
          dot={false}
          activeDot={false}
          isAnimationActive={false}
        />
        {p.stickX.map((x, i) => (
          <ReferenceLine
            key={`s${i}`}
            segment={[{ x, y: 1.0 }, { x, y: p.stickEnd[i] }]}
            stroke="#000"
            strokeWidth={p.stickW[i]}
          />
        ))}
        <Scatter data={points} dataKey="obs" shape={Ring} isAnimationActive={false} />
        <Line
          dataKey="fit"
          type="monotone"
          dot={false}
          activeDot={false}
          stroke="#000"
          strokeWidth={1}
          isAnimationActive={false}
        />
        {(p.arrows || []).map((a, i) => (
          <ReferenceLine
            key={`a${i}`}
            segment={[{ x: a[0], y: a[1] }, { x: a[2], y: a[3] }]}
            shape={ArrowShape}
          />
        ))}
      </ComposedChart>
    </div>
  );
}

const Sub = ({ children }: { children: React.ReactNode }) => (
  <span style={{ fontSize: '0.62em', position: 'relative', top: '0.38em', lineHeight: 0 }}>{children}</span>
);
const Sup = ({ children }: { children: React.ReactNode }) => (
  <span style={{ fontSize: '0.62em', position: 'relative', top: '-0.55em', lineHeight: 0 }}>{children}</span>
);

function Note({ x, cy, size, bold, children }: { x: number; cy: number; size: number; bold?: boolean; children: React.ReactNode }) {
  return (
    <div
      style={{
        position: 'absolute',
        left: x,
        top: cy - 0.49 * size,
        fontSize: size,
        lineHeight: `${size}px`,
        fontWeight: bold ? 700 : 400,
        whiteSpace: 'nowrap',
      }}
    >
      {children}
    </div>
  );
}

function VTitle({ cx, cy }: { cx: number; cy: number }) {
  return (
    <div
      style={{
        position: 'absolute',
        left: cx,
        top: cy,
        transform: 'translate(-50%, -50%) rotate(-90deg)',
        fontSize: 27,
        fontWeight: 700,
        whiteSpace: 'nowrap',
        lineHeight: '27px',
      }}
    >
      Relative Transmission
    </div>
  );
}

function HTitle({ cx, cy }: { cx: number; cy: number }) {
  return (
    <div
      style={{
        position: 'absolute',
        left: cx,
        top: cy,
        transform: 'translate(-50%, -50%)',
        fontSize: 22,
        fontWeight: 700,
        whiteSpace: 'nowrap',
        lineHeight: '22px',
      }}
    >
      Velocity / mms<Sup>-1</Sup>
    </div>
  );
}

export default function App() {
  const lx = 89.3 - Y_W;
  const lw = 421;
  const rx = 733.7 - Y_W;
  const rw = 424.1;
  return (
    <div
      style={{
        position: 'absolute',
        left: 0,
        top: 0,
        width: 1286,
        height: 829,
        background: '#fff',
        color: '#000',
        fontFamily: FONT,
        overflow: 'hidden',
      }}
    >
      <Panel vel={velLeft} velMid={velLeftMid} obs={obsA} obsMid={obsAMid} fit={fitA}
        stickX={stickXA} stickEnd={stickEndA} stickW={stickWA}
        xDomain={[-30, 30]} xTicks={xTicksLeft} yDomain={[0.848, 1.026]} yTicks={yTicksA} yStep={0.1} yDigits={1}
        left={lx} top={5} plotW={lw} plotH={186.5} topTicks />
      <Panel vel={velLeft} velMid={velLeftMid} obs={obsB} obsMid={obsBMid} fit={fitB}
        stickX={stickXB} stickEnd={stickEndB} stickW={stickWB}
        xDomain={[-30, 30]} xTicks={xTicksLeft} yDomain={[0.792, 1.024]} yTicks={yTicksB} yStep={0.1} yDigits={1}
        left={lx} top={191.5} plotW={lw} plotH={184} />
      <Panel vel={velLeft} velMid={velLeftMid} obs={obsC} obsMid={obsCMid} fit={fitC}
        stickX={stickXC} stickEnd={stickEndC} stickW={stickWC} arrows={arrowsC}
        xDomain={[-30, 30]} xTicks={xTicksLeft} yDomain={[0.799, 1.05]} yTicks={yTicksC} yStep={0.1} yDigits={1}
        left={lx} top={375.5} plotW={lw} plotH={186.5} />
      <Panel vel={velLeft} velMid={velLeftMid} obs={obsD} obsMid={obsDMid} fit={fitD}
        stickX={stickXD} stickEnd={stickEndD} stickW={stickWD}
        xDomain={[-30, 30]} xTicks={xTicksLeft} yDomain={[0.622, 1.049]} yTicks={yTicksD} yStep={0.1} yDigits={1}
        left={lx} top={562} plotW={lw} plotH={184.7} xLabels />

      <Panel vel={velRight} velMid={velRightMid} obs={obsF} obsMid={obsFMid} fit={fitF}
        stickX={stickXF} stickEnd={stickEndF} stickW={stickWF} arrows={arrowsF}
        xDomain={[-30, 28.1]} xTicks={xTicksRight} yDomain={[0.776, 1.025]} yTicks={yTicksF} yStep={0.05} yDigits={2}
        left={rx} top={246} plotW={rw} plotH={249} topTicks />
      <Panel vel={velRight} velMid={velRightMid} obs={obsE} obsMid={obsEMid} fit={fitE}
        stickX={stickXE} stickEnd={stickEndE} stickW={stickWE} arrows={arrowsE}
        xDomain={[-30, 28.1]} xTicks={xTicksRight} yDomain={[0.6, 1.053]} yTicks={yTicksE} yStep={0.1} yDigits={1}
        left={rx} top={495} plotW={rw} plotH={251.7} xLabels />

      {/* panel captions, left column */}
      <Note x={389} cy={84} size={23} bold>a)</Note>
      <Note x={389} cy={118} size={22} bold>CoSb<Sub>3</Sub></Note>
      <Note x={389} cy={260} size={23} bold>b)</Note>
      <Note x={389} cy={291} size={23}>Sample A<Sub>1</Sub></Note>
      <Note x={382} cy={460} size={23} bold>c)</Note>
      <Note x={383} cy={489} size={23}>Sample A<Sub>3</Sub></Note>
      <Note x={117} cy={493} size={19} bold>Li<Sub>x</Sub>CoSb<Sub>y</Sub></Note>
      <Note x={118} cy={527} size={19} bold>51 %</Note>
      <Note x={305} cy={487} size={19} bold>Li<Sub>3</Sub>Sb</Note>
      <Note x={305} cy={517} size={19} bold>49 %</Note>
      <Note x={383} cy={628} size={23} bold>d)</Note>
      <Note x={383} cy={658} size={23}>Sample A<Sub>4</Sub></Note>
      <Note x={280} cy={715} size={19} bold>Li<Sub>3</Sub>Sb</Note>

      {/* panel captions, right column */}
      <Note x={1030} cy={322} size={23} bold>f)</Note>
      <Note x={1033} cy={347} size={23}>Sample B<Sub>2</Sub></Note>
      <Note x={780} cy={393} size={19} bold>Li<Sub>x</Sub>CoSb<Sub>y</Sub></Note>
      <Note x={780} cy={423} size={19} bold>58 %</Note>
      <Note x={955} cy={392} size={19} bold>Li<Sub>3</Sub>Sb</Note>
      <Note x={955} cy={420} size={19} bold>42 %</Note>
      <Note x={1033} cy={570} size={23} bold>e)</Note>
      <Note x={1033} cy={603} size={23}>Sample B<Sub>1</Sub></Note>
      <Note x={767} cy={645} size={19} bold>Li<Sub>x</Sub>CoSb<Sub>y</Sub></Note>
      <Note x={767} cy={675} size={19} bold>6 %</Note>
      <Note x={960} cy={680} size={19} bold>Li<Sub>3</Sub>Sb</Note>
      <Note x={960} cy={710} size={19} bold>94 %</Note>

      <VTitle cx={20} cy={341} />
      <VTitle cx={663} cy={480} />
      <HTitle cx={309} cy={807} />
      <HTitle cx={956} cy={810} />
    </div>
  );
}
